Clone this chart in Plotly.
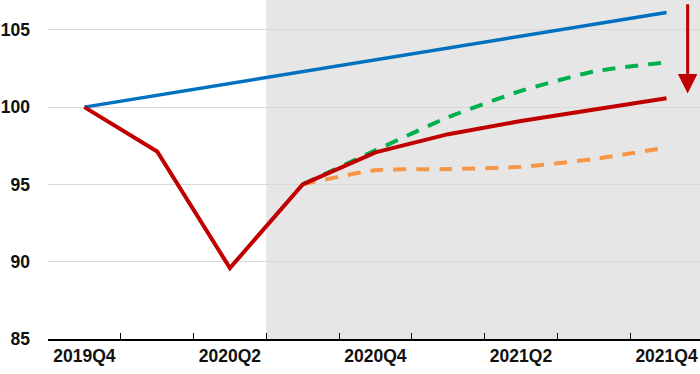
import plotly.graph_objects as go

quarters = ["2019Q4", "2020Q1", "2020Q2", "2020Q3", "2020Q4",
            "2021Q1", "2021Q2", "2021Q3", "2021Q4"]
tick_labels = ["2019Q4", "", "2020Q2", "", "2020Q4", "", "2021Q2", "", "2021Q4"]

pre_crisis = [100.0, 100.77, 101.53, 102.3, 103.06, 103.83, 104.59, 105.36, 106.12]
baseline = [100.0, 97.13, 89.59, 95.0, 97.07, 98.25, 99.1, 99.87, 100.58]
upside = [None, None, None, 95.0, 97.2, 99.35, 101.05, 102.3, 102.9]
downside = [None, None, None, 95.0, 95.92, 95.99, 96.14, 96.64, 97.39]

FONT = "Liberation Sans"

fig = go.Figure()
fig.add_trace(go.Scatter(x=quarters, y=pre_crisis, mode="lines",
                         line=dict(color="#0070C0", width=3.5)))
fig.add_trace(go.Scatter(x=quarters, y=upside, mode="lines",
                         line=dict(color="#00B050", width=4, dash="13px,10px",
                                   shape="spline", smoothing=0.6)))
fig.add_trace(go.Scatter(x=quarters, y=downside, mode="lines",
                         line=dict(color="#F79646", width=4, dash="13px,10px",
                                   shape="spline", smoothing=0.6)))
fig.add_trace(go.Scatter(x=quarters, y=baseline, mode="lines",
                         line=dict(color="#C00000", width=4)))

fig.add_shape(type="rect", xref="x", yref="paper", x0=2.5, x1=9.5, y0=0, y1=1,
              fillcolor="#E6E6E6", line=dict(width=0), layer="below")

fig.add_annotation(x=8.29, y=100.88, ax=8.29, ay=106.75, xref="x", yref="y",
                   axref="x", ayref="y", text="", showarrow=True,
                   arrowhead=2, arrowsize=1.3, arrowwidth=3, arrowcolor="#C00000")

fig.update_layout(
    width=700, height=374,
    margin=dict(l=48, r=0, t=0, b=35),
    paper_bgcolor="white", plot_bgcolor="white",
    showlegend=False,
    font=dict(family=FONT, size=17.5, color="#111111"),
    xaxis=dict(type="category", range=[-0.5, 8.46],
               tickmode="array", tickvals=quarters, ticktext=tick_labels,
               tickson="boundaries", ticks="inside", ticklen=6, tickcolor="black",
               showline=True, linecolor="black", linewidth=1.5,
               showgrid=False, zeroline=False,
               tickfont=dict(family=FONT, size=17.5, weight="bold")),
    yaxis=dict(range=[85, 106.93], tickvals=[85, 90, 95, 100, 105],
               showgrid=True, gridcolor="#D9D9D9", gridwidth=1,
               zeroline=False, showline=False, ticks="",
               ticklabelstandoff=17,
               tickfont=dict(family=FONT, size=17.5, weight="bold")),
)

fig.write_html("out.html", config={"displayModeBar": False},
               post_script="document.body.style.margin='0px';")
